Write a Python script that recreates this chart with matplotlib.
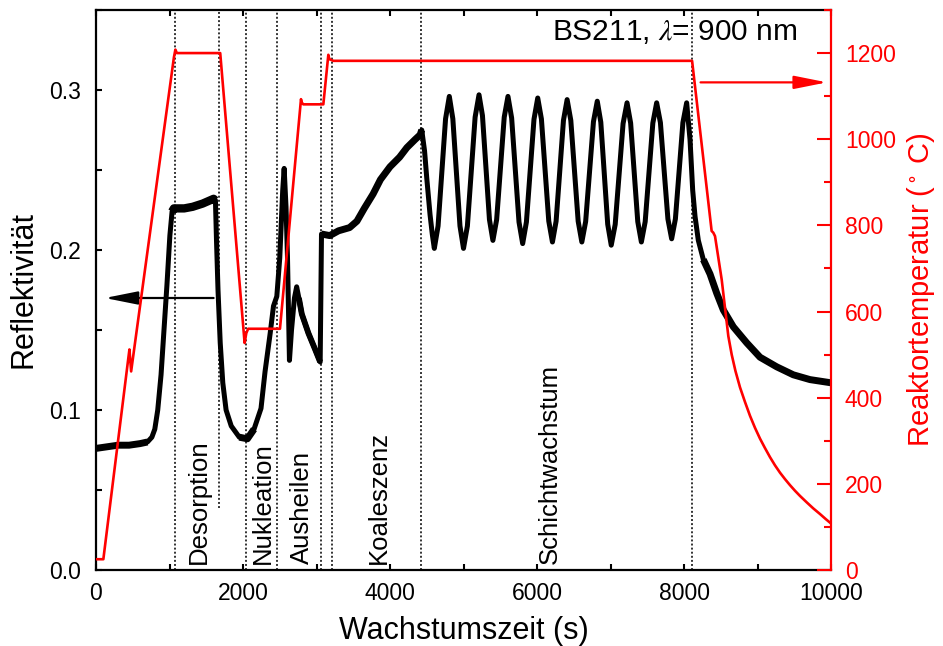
import matplotlib
matplotlib.use("Agg")
import matplotlib.pyplot as plt
import numpy as np

plt.rcParams['font.family'] = ['Liberation Sans', 'DejaVu Sans']
plt.rcParams['mathtext.fontset'] = 'stix'

# ---------------- data ----------------
# Reflectivity (black curve)
refl_t = [0, 150, 300, 450, 600, 700, 760, 800, 840, 885, 930, 965, 1005, 1035, 1060,
          1200, 1315, 1450, 1600, 1625, 1640, 1660, 1690, 1725, 1770, 1840, 1950, 2060,
          2150, 2245, 2300, 2370, 2415, 2460, 2500, 2540, 2560, 2585, 2605, 2632, 2660,
          2700, 2730, 2760, 2800, 2890, 2980, 3050, 3068, 3180, 3300, 3450, 3550, 3650,
          3770, 3870, 4000, 4130, 4230, 4340, 4410, 4432, 4470, 4500, 4545, 4575,
          4603, 4654, 4705, 4756, 4807, 4855, 4904, 4952,
          5000, 5053, 5105, 5158, 5211, 5258, 5305, 5353,
          5400, 5451, 5502, 5554, 5605, 5655, 5705, 5755,
          5805, 5856, 5907, 5959, 6010, 6060, 6110, 6160,
          6210, 6260, 6310, 6360, 6410, 6460, 6510, 6560,
          6610, 6662, 6715, 6768, 6820, 6868, 6915, 6962,
          7010, 7064, 7118, 7171, 7225, 7274, 7322, 7371,
          7420, 7472, 7524, 7576, 7628, 7679, 7730, 7781,
          7832, 7883, 7934, 7985, 8036,
          8082, 8118, 8150, 8195, 8263, 8354, 8445, 8535, 8671, 8853, 9034, 9261,
          9487, 9714, 10000]
refl_v = [0.076, 0.077, 0.078, 0.078, 0.079, 0.080, 0.083, 0.088, 0.100, 0.122, 0.153,
          0.178, 0.209, 0.224, 0.226, 0.226, 0.227, 0.229, 0.232, 0.231, 0.205, 0.175,
          0.142, 0.117, 0.100, 0.090, 0.083, 0.082, 0.088, 0.101, 0.124, 0.148, 0.165,
          0.171, 0.195, 0.237, 0.251, 0.227, 0.196, 0.131, 0.150, 0.170, 0.177, 0.170,
          0.160, 0.148, 0.138, 0.130, 0.210, 0.209, 0.212, 0.214, 0.218, 0.226, 0.235,
          0.244, 0.252, 0.258, 0.264, 0.269, 0.272, 0.275, 0.262, 0.245, 0.222, 0.210,
          0.201, 0.215, 0.2485, 0.282, 0.296, 0.282, 0.2485, 0.215,
          0.201, 0.215, 0.249, 0.283, 0.297, 0.284, 0.2515, 0.219,
          0.206, 0.219, 0.251, 0.283, 0.296, 0.2825, 0.250, 0.2175,
          0.204, 0.2175, 0.2495, 0.2817, 0.295, 0.2819, 0.250, 0.2181,
          0.205, 0.218, 0.2495, 0.281, 0.294, 0.281, 0.2495, 0.218,
          0.205, 0.2178, 0.249, 0.2802, 0.293, 0.2799, 0.248, 0.2161,
          0.203, 0.216, 0.2475, 0.279, 0.292, 0.2793, 0.2485, 0.2177,
          0.205, 0.2177, 0.2485, 0.2793, 0.292, 0.2796, 0.2495, 0.2194,
          0.207, 0.2194, 0.2495, 0.2796, 0.292,
          0.269, 0.2375, 0.221, 0.206, 0.194, 0.185, 0.173, 0.1625, 0.152, 0.142,
          0.133, 0.127, 0.122, 0.119, 0.117]

# Reactor temperature (red curve)
temp_t = [0, 100, 440, 455, 478, 1060, 1080, 1100, 1690, 2022, 2045, 2070, 2503, 2789,
          2800, 2821, 3093, 3161, 3175, 3229, 8110, 8376, 8399, 8422, 8513, 8603, 8649,
          8700, 8762, 8830, 8898, 8966, 9034, 9102, 9170, 9238, 9306, 9374, 9442, 9510,
          9578, 9670, 9759, 9850, 9930, 10000]
temp_v = [25, 25, 492, 512, 461, 1190, 1208, 1200, 1200, 527, 550, 560, 560, 1093,
          1085, 1081, 1081, 1196, 1186, 1182, 1182, 787, 783, 775, 674, 543, 500,
          462, 424, 390, 358, 330, 305, 283, 262, 243, 226, 211, 197, 184,
          172, 157, 143, 130, 118, 108]

phase_lines = [1078, 2040, 2465, 3061, 3205, 4422, 8110]
partial_line = 1680
phase_names = ['Desorption', 'Nukleation', 'Ausheilen', 'Koaleszenz', 'Schichtwachstum']
phase_pos = [1400, 2272, 2800, 3850, 6177]

x_ticks = [0, 2000, 4000, 6000, 8000, 10000]
r_ticks = [0.0, 0.1, 0.2, 0.3]
t_ticks = [0, 200, 400, 600, 800, 1000, 1200]

# noisy regions drawn with a wider stroke: (start, end, linewidth)
noise_bands = [(0, 720, 5.0), (1035, 1625, 6.0), (1880, 2160, 5.0), (2740, 3050, 4.2),
               (3068, 4432, 5.0), (8263, 10000, 5.0)]

# ---------------- figure ----------------
W, H = 943, 646
fig = plt.figure(figsize=(W / 100, H / 100), dpi=100)
ax = fig.add_axes([96 / W, 1 - 570 / H, 735 / W, 560 / H])
ax2 = ax.twinx()

RED = '#ff0000'

# phase lines
for x in phase_lines:
    ax.axvline(x, color='0.2', lw=1.4, ls=(0, (1, 1.1)), zorder=1)
ax.vlines(partial_line, 0.039, 0.35, color='0.2', lw=1.4, ls=(0, (1, 1.1)), zorder=1)

# reflectivity
rt = np.array(refl_t)
rv = np.array(refl_v)
ax.plot(rt, rv, color='k', lw=3.6, solid_joinstyle='round', zorder=3)
for a, b, w in noise_bands:
    m = (rt >= a) & (rt <= b)
    ax.plot(rt[m], rv[m], color='k', lw=w, solid_capstyle='butt',
            solid_joinstyle='round', zorder=3)

# temperature
ax2.plot(temp_t, temp_v, color=RED, lw=1.9, zorder=4)

# arrows
ax.annotate('', xy=(120, 0.17), xytext=(1600, 0.17),
            arrowprops=dict(arrowstyle='-|>,head_length=1.0,head_width=0.2',
                            mutation_scale=20, color='k', lw=1.6,
                            shrinkA=0, shrinkB=0))
ax2.annotate('', xy=(9945, 1132), xytext=(8225, 1132),
             arrowprops=dict(arrowstyle='-|>,head_length=1.0,head_width=0.2',
                             mutation_scale=20, color=RED, lw=1.6,
                             shrinkA=0, shrinkB=0))

# phase labels
for name, x in zip(phase_names, phase_pos):
    ax.text(x, 0.004, name, rotation=90, ha='center', va='bottom', fontsize=18.5)

ax.text(9540, 0.336, 'BS211, $\\lambda$= 900 nm', ha='right', va='center', fontsize=21.5)

# axes
ax.set_xlim(0, 10000)
ax.set_ylim(0, 0.35)
ax2.set_ylim(0, 1300)
ax.set_xticks(x_ticks)
ax.set_xticks(np.arange(0, 10001, 1000), minor=True)
ax.set_yticks(r_ticks)
ax.set_yticklabels(['%.1f' % v for v in r_ticks])
ax.set_yticks(np.arange(0, 0.351, 0.05), minor=True)
ax2.set_yticks(t_ticks)
ax2.set_yticks(np.arange(0, 1301, 100), minor=True)

ax.tick_params(which='both', direction='in', top=True, right=False, length=4,
               width=1.5, labelsize=16.5)
ax.tick_params(axis='x', pad=9)
ax.tick_params(axis='y', pad=11)
ax2.tick_params(axis='y', which='major', direction='in', length=10, width=1.5,
                colors=RED, labelsize=16.5, pad=10)
ax2.tick_params(axis='y', which='minor', direction='in', length=5, width=1.5, colors=RED)

for s in ['left', 'top', 'bottom']:
    ax.spines[s].set_linewidth(1.6)
ax.spines['right'].set_visible(False)
for s in ['left', 'top', 'bottom']:
    ax2.spines[s].set_visible(False)
ax2.spines['right'].set_color(RED)
ax2.spines['right'].set_linewidth(1.6)

ax.set_xlabel('Wachstumszeit (s)', fontsize=22)
ax.set_ylabel('Reflektivität', fontsize=22)
ax2.set_ylabel('Reaktortemperatur ($^\\circ$ C)', fontsize=21, color=RED)
ax.xaxis.set_label_coords(0.5, -0.083)
ax.yaxis.set_label_coords(-0.078, 0.5)
ax2.yaxis.set_label_coords(1.1, 0.5)

fig.savefig('out.png', dpi=100)
